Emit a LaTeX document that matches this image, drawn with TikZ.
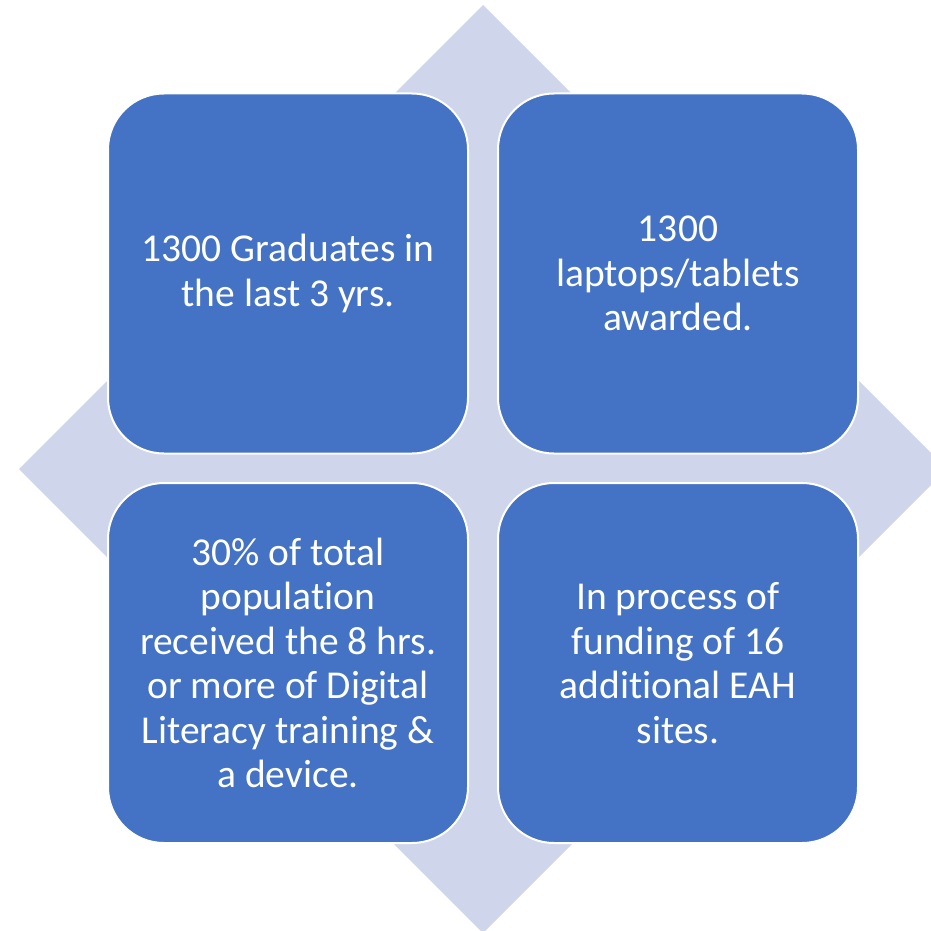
\documentclass[tikz,border=0pt]{standalone}
\usepackage{fontspec}
\setmainfont{Carlito}[Ligatures={NoCommon,NoRare}]
\usepackage{xcolor}
\usepackage{tikz}
\usetikzlibrary{positioning}

\definecolor{BoxBlue}{HTML}{4472C4}
\definecolor{DiamondGray}{HTML}{CFD5EA}

\tikzset{
  factbox/.style={rectangle, rounded corners=56pt, minimum width=360pt, minimum height=360pt,
    fill=BoxBlue, draw=white, line width=2pt, text=white, align=center,
    font=\fontsize{39.5}{44.5}\selectfont}
}

\begin{document}
\begin{tikzpicture}[x=1pt,y=-1pt]

\useasboundingbox (0,0) rectangle (931,931);
\clip (0,0) rectangle (931,931);

% Background diamond
\fill[DiamondGray] (483,5) -- (947,469) -- (483,933) -- (19,469) -- cycle;

% Four boxes
\node[factbox] (grads) at (288,273.5) {1300 Graduates in\\the last 3 yrs.};
\node[factbox] (laptops) at (678,273.5) {1300\\laptops/tablets\\awarded.};
\node[factbox] (literacy) at (288,663) {30\% of total\\population\\received the 8 hrs.\\or more of Digital\\Literacy training \&\\a device.};
\node[factbox] (funding) at (678,663) {In process of\\funding of 16\\additional EAH\\sites.};

\end{tikzpicture}
\end{document}
